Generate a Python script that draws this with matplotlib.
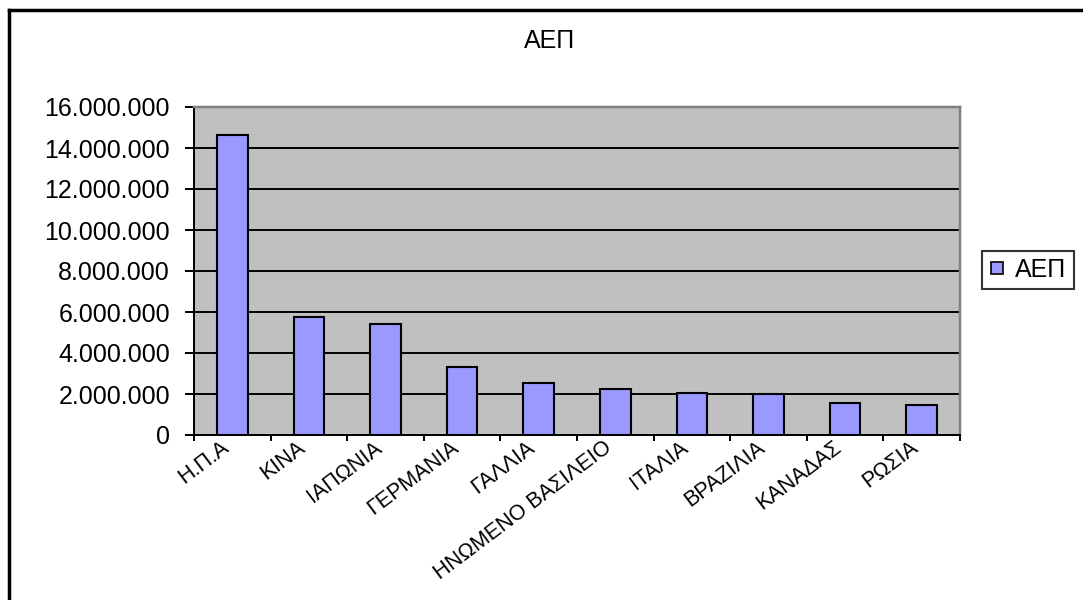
import matplotlib
matplotlib.use("Agg")
import matplotlib.pyplot as plt
from matplotlib.ticker import FuncFormatter, FixedLocator
from matplotlib.lines import Line2D
from matplotlib.transforms import ScaledTranslation
import numpy as np

countries = ["Η.Π.Α", "ΚΙΝΑ", "ΙΑΠΩΝΙΑ", "ΓΕΡΜΑΝΙΑ", "ΓΑΛΛΙΑ",
             "ΗΝΩΜΕΝΟ ΒΑΣΙΛΕΙΟ", "ΙΤΑΛΙΑ", "ΒΡΑΖΙΛΙΑ", "ΚΑΝΑΔΑΣ", "ΡΩΣΙΑ"]
gdp = [14624184, 5745133, 5390897, 3305898, 2555439,
       2258565, 2036687, 2023528, 1563664, 1476912]
series_name = "ΑΕΠ"
y_ticks = [0, 2000000, 4000000, 6000000, 8000000, 10000000, 12000000, 14000000, 16000000]

plt.rcParams['font.family'] = ['Liberation Sans', 'DejaVu Sans']

W, H = 1083, 600
PX = 72 / 100  # points per pixel at 100 dpi
fig = plt.figure(figsize=(W / 100, H / 100), dpi=100)
fig.patch.set_facecolor("white")

ax = fig.add_axes([194 / W, 1 - 435 / H, (960 - 194) / W, (435 - 107) / H])
ax.set_facecolor("#C0C0C0")

x = np.arange(len(countries))
ax.bar(x, gdp, width=0.4, color="#9999FF", edgecolor="black", linewidth=1.5, zorder=3)

ax.set_xlim(-0.5, len(countries) - 0.5)
ax.set_ylim(0, 16000000)

ax.yaxis.set_major_locator(FixedLocator(y_ticks))
ax.yaxis.set_major_formatter(FuncFormatter(lambda v, p: f"{int(v):,}".replace(",", ".")))
ax.grid(axis="y", color="black", linewidth=1.4, zorder=1)
ax.set_axisbelow(True)

ax.set_xticks(x, countries, rotation=37, ha="right", va="top", rotation_mode="anchor")
ax.set_xticks(np.arange(len(countries) + 1) - 0.5, minor=True)
ax.tick_params(axis="x", which="major", length=0, pad=2 * PX, labelsize=15.5)
ax.tick_params(axis="x", which="minor", length=6 * PX, width=2 * PX, color="black", direction="out")
ax.tick_params(axis="y", length=9 * PX, width=2 * PX, direction="out", labelsize=18, pad=15 * PX)
shift = ScaledTranslation(-12 / 100, 0, fig.dpi_scale_trans)
for lbl in ax.get_xticklabels():
    lbl.set_transform(lbl.get_transform() + shift)

for side in ["left", "bottom"]:
    ax.spines[side].set_color("black")
    ax.spines[side].set_linewidth(2 * PX)
for side in ["top", "right"]:
    ax.spines[side].set_color("#808080")
    ax.spines[side].set_linewidth(2.5 * PX)

fig.text(550 / W, 1 - 41 / H, series_name, ha="center", va="center", fontsize=18)

handle = Line2D([], [], marker="s", linestyle="none", markersize=8.5,
                markerfacecolor="#9999FF", markeredgecolor="black", markeredgewidth=1.2)
leg = fig.legend([handle], [series_name], loc="center left",
                 bbox_to_anchor=(982 / W, 1 - 270 / H), fontsize=18,
                 frameon=True, fancybox=False, edgecolor="black",
                 handlelength=0.6, handletextpad=0.45, borderpad=0.28,
                 borderaxespad=0)
leg.get_frame().set_linewidth(1.5)

# outer chart frame (runs past the right and bottom edges)
fig.add_artist(Line2D([9 / W, 9 / W], [0, 1 - 10 / H], color="black", linewidth=2.5))
fig.add_artist(Line2D([9 / W, 1], [1 - 10 / H, 1 - 10 / H], color="black", linewidth=2.5))

fig.savefig("out.png", dpi=100)
